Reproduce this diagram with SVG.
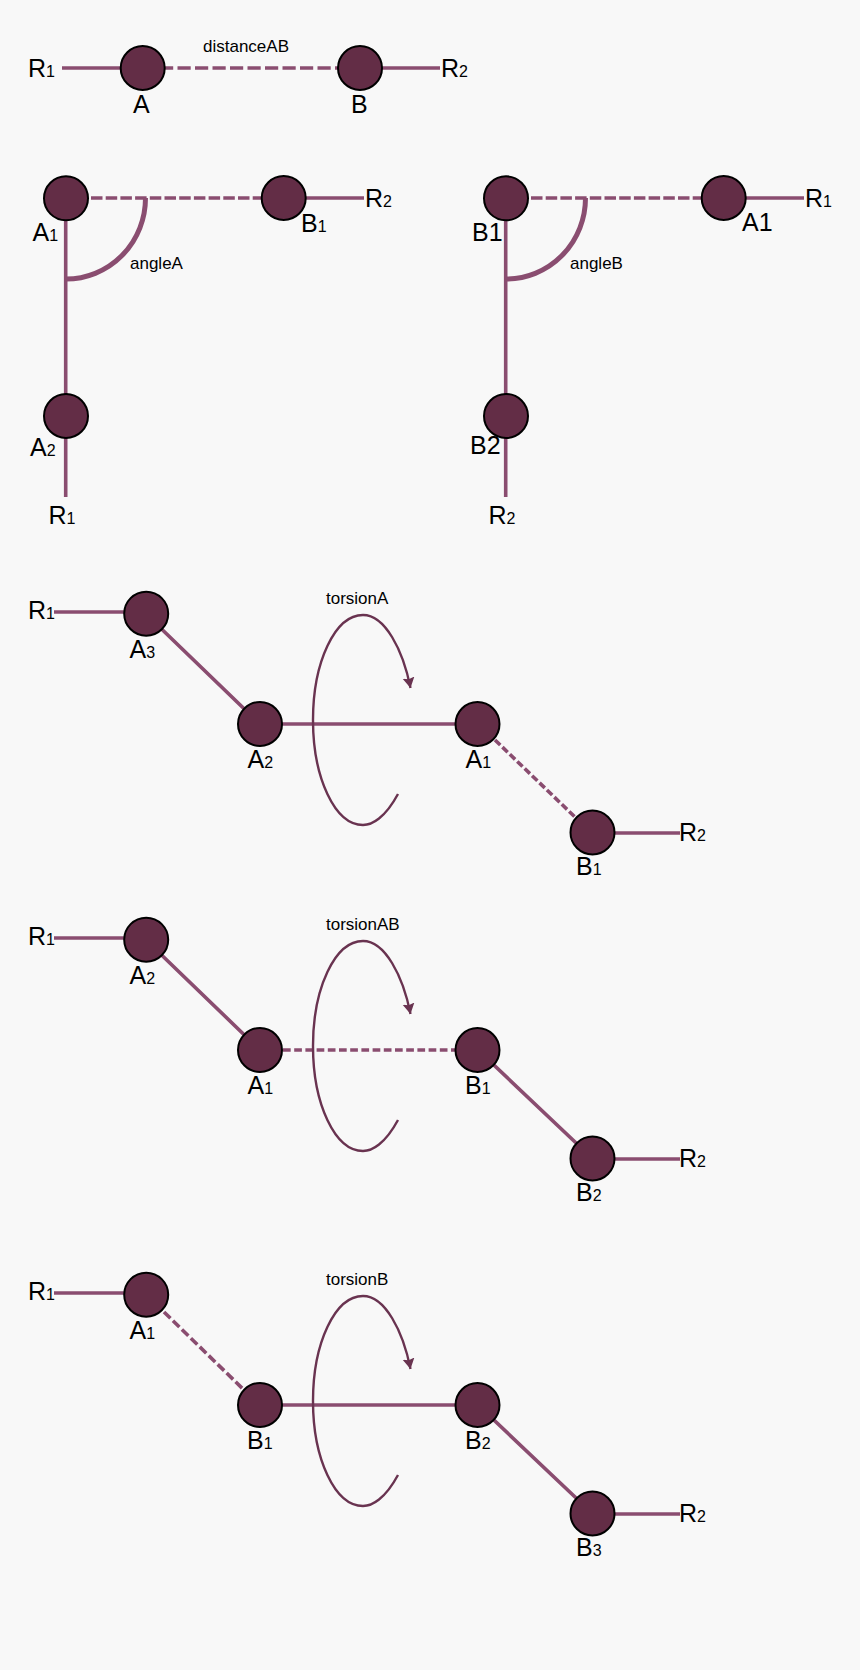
<svg xmlns="http://www.w3.org/2000/svg" width="860" height="1670" viewBox="0 0 860 1670">
<style>
.b{fill:none;stroke:#8a4d70;stroke-width:3.6}
.d1{stroke-dasharray:13.2 4.3;stroke-dashoffset:5}
.d{stroke-dasharray:11.5 3.2}
.d3{stroke-dasharray:7.7 3.5}
.d2{stroke-dasharray:7.3 3}
.d5{stroke-dasharray:9 3.5}
.arc{fill:none;stroke:#8a4d70;stroke-width:5}
.t{fill:none;stroke:#693350;stroke-width:2.4;marker-end:url(#ah)}
.n{fill:#632d46;stroke:#000;stroke-width:2}
text{font-family:"Liberation Sans",Arial,sans-serif;fill:#000}
.l{font-size:25px}
.s{font-size:16px}
.c{font-size:17px}
</style>
<defs><marker id="ah" markerUnits="userSpaceOnUse" markerWidth="13" markerHeight="13" refX="10.500" refY="6" orient="auto"><path d="M0 0L10.500 6L0 12L1.500 6Z" fill="#693350"/></marker></defs>
<rect width="860" height="1670" fill="#f8f8f8"/>
<g id="connectors">
<path class="b" d="M62 68H121M360 68H440"/><path class="b d1" d="M165 68H338"/>
<path class="b" d="M283 198H364M65.700 198V497"/><path class="b d" d="M91 198H262"/><path class="arc" d="M145.500 198A79.500 81 0 0 1 66 279"/>
<path class="b" d="M723 198H804M505.700 198V497"/><path class="b d" d="M531 198H702"/><path class="arc" d="M585.500 198A79.500 81 0 0 1 506 279"/>

<path class="b" d="M54 612H125M146 614L260 724M260 724H478M593 833H680"/><path class="b d2" d="M495 740L575 817"/>
<path class="t" d="M398 794C385 818 372 825 363 825C335 825 313 778 313 720C313 662 335 615 363 615C385 615 403 650 410.500 688"/>

<path class="b" d="M54 938H125M146 940L260 1050M478 1050L593 1159M593 1159H680"/><path class="b d3" d="M283 1050H456"/>
<path class="t" d="M398 1120C385 1144 372 1151 363 1151C335 1151 313 1104 313 1046C313 988 335 941 363 941C385 941 403 976 410.500 1014"/>

<path class="b" d="M54 1293H125M260 1405H478M478 1405L593 1514M593 1514H680"/><path class="b d5" d="M164 1312L244 1390"/>
<path class="t" d="M398 1475C385 1499 372 1506 363 1506C335 1506 313 1459 313 1401C313 1343 335 1296 363 1296C385 1296 403 1331 410.500 1369"/>
</g>
<g id="node-A"><circle class="n" cx="142.700" cy="68" r="22"/><text class="l" x="133" y="113">A</text></g>
<g id="node-B"><circle class="n" cx="360" cy="68" r="22"/><text class="l" x="351" y="113">B</text></g>
<g id="label-r1-a"><text class="l" x="28" y="77">R<tspan class="s">1</tspan></text></g>
<g id="label-r2-a"><text class="l" x="441" y="77">R<tspan class="s">2</tspan></text></g>
<g id="label-distance"><text class="c" x="203" y="52">distanceAB</text></g>

<g id="node-A1-angle"><circle class="n" cx="66" cy="198.300" r="22"/><text class="l" x="32.500" y="241">A<tspan class="s">1</tspan></text></g>
<g id="node-B1-angle"><circle class="n" cx="283.700" cy="198" r="22"/><text class="l" x="301" y="232">B<tspan class="s">1</tspan></text></g>
<g id="node-A2-angle"><circle class="n" cx="66" cy="416" r="22"/><text class="l" x="30" y="455.500">A<tspan class="s">2</tspan></text></g>
<g id="label-angleA"><text class="c" x="130" y="269">angleA</text><text class="l" x="365" y="207">R<tspan class="s">2</tspan></text><text class="l" x="48.500" y="523.500">R<tspan class="s">1</tspan></text></g>

<g id="node-B1-angleB"><circle class="n" cx="506" cy="198.300" r="22"/><text class="l" x="472" y="241">B1</text></g>
<g id="node-A1-angleB"><circle class="n" cx="723.700" cy="198" r="22"/><text class="l" x="742" y="231">A1</text></g>
<g id="node-B2-angleB"><circle class="n" cx="506" cy="416" r="22"/><text class="l" x="470" y="454">B2</text></g>
<g id="label-angleB"><text class="c" x="570" y="269">angleB</text><text class="l" x="805" y="207">R<tspan class="s">1</tspan></text><text class="l" x="488.500" y="523.500">R<tspan class="s">2</tspan></text></g>

<g id="node-A3-ta"><circle class="n" cx="146.200" cy="613.700" r="22"/><text class="l" x="129.500" y="657.500">A<tspan class="s">3</tspan></text></g>
<g id="node-A2-ta"><circle class="n" cx="260" cy="724" r="22"/><text class="l" x="247.500" y="768">A<tspan class="s">2</tspan></text></g>
<g id="node-A1-ta"><circle class="n" cx="477.500" cy="724" r="22"/><text class="l" x="465.500" y="768">A<tspan class="s">1</tspan></text></g>
<g id="node-B1-ta"><circle class="n" cx="592.500" cy="832.500" r="22"/><text class="l" x="576" y="875">B<tspan class="s">1</tspan></text></g>
<g id="label-ta"><text class="c" x="326" y="604">torsionA</text><text class="l" x="28" y="619">R<tspan class="s">1</tspan></text><text class="l" x="679" y="841">R<tspan class="s">2</tspan></text></g>

<g id="node-A2-tab"><circle class="n" cx="146.200" cy="939.700" r="22"/><text class="l" x="129.500" y="983.500">A<tspan class="s">2</tspan></text></g>
<g id="node-A1-tab"><circle class="n" cx="260" cy="1050" r="22"/><text class="l" x="247.500" y="1094">A<tspan class="s">1</tspan></text></g>
<g id="node-B1-tab"><circle class="n" cx="477.500" cy="1050" r="22"/><text class="l" x="465" y="1093.500">B<tspan class="s">1</tspan></text></g>
<g id="node-B2-tab"><circle class="n" cx="592.500" cy="1158.500" r="22"/><text class="l" x="576" y="1201">B<tspan class="s">2</tspan></text></g>
<g id="label-tab"><text class="c" x="326" y="930">torsionAB</text><text class="l" x="28" y="945">R<tspan class="s">1</tspan></text><text class="l" x="679" y="1167">R<tspan class="s">2</tspan></text></g>

<g id="node-A1-tb"><circle class="n" cx="146.200" cy="1294.700" r="22"/><text class="l" x="129.500" y="1338.500">A<tspan class="s">1</tspan></text></g>
<g id="node-B1-tb"><circle class="n" cx="260" cy="1405" r="22"/><text class="l" x="247" y="1449">B<tspan class="s">1</tspan></text></g>
<g id="node-B2-tb"><circle class="n" cx="477.500" cy="1405" r="22"/><text class="l" x="465" y="1448.500">B<tspan class="s">2</tspan></text></g>
<g id="node-B3-tb"><circle class="n" cx="592.500" cy="1513.500" r="22"/><text class="l" x="576" y="1556">B<tspan class="s">3</tspan></text></g>
<g id="label-tb"><text class="c" x="326" y="1285">torsionB</text><text class="l" x="28" y="1300">R<tspan class="s">1</tspan></text><text class="l" x="679" y="1522">R<tspan class="s">2</tspan></text></g>
</svg>
